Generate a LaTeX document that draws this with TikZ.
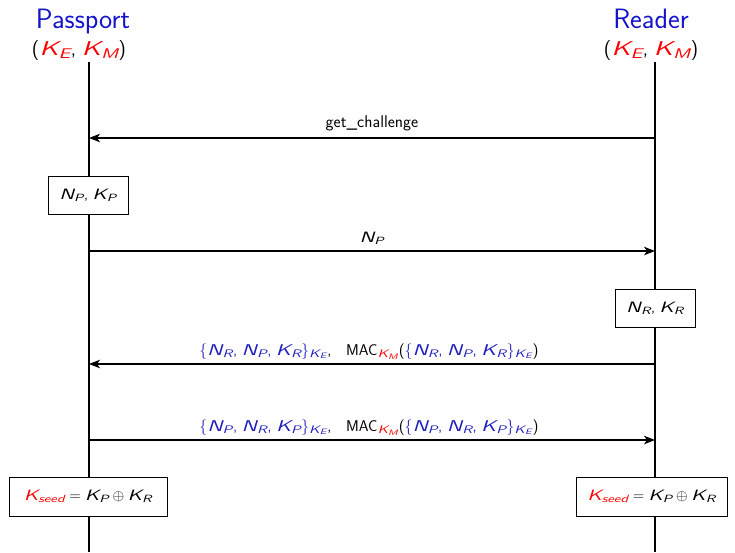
\RequirePackage{fix-cm}
\documentclass[tikz,border=0pt]{standalone}
\usepackage[no-math]{fontspec}
\usepackage{amsmath}
\usetikzlibrary{arrows.meta}
\newfontfamily\sfxfam{lmsans10-oblique.otf}[FakeStretch=1.4]
\DeclareSymbolFont{operators}{OT1}{cmss}{m}{n}
\DeclareMathSymbol{(}{\mathopen}{operators}{`(}
\DeclareMathSymbol{)}{\mathclose}{operators}{`)}
\DeclareMathSymbol{,}{\mathpunct}{operators}{`,}
\newcommand{\mk}[1]{\text{\sfxfam #1}}
\definecolor{tblue}{RGB}{20,20,200}
\definecolor{mblue}{RGB}{30,30,190}
\newcommand{\enc}[1]{\textcolor{mblue}{#1}}
\newcommand{\rk}[1]{\textcolor{red}{#1}}
\newcommand{\KE}{\mk{K}_{\mk{E}}}
\newcommand{\KM}{\mk{K}_{\mk{M}}}
\newcommand{\NP}{\mk{N}_{\mk{P}}}
\newcommand{\NR}{\mk{N}_{\mk{R}}}
\newcommand{\KP}{\mk{K}_{\mk{P}}}
\newcommand{\KR}{\mk{K}_{\mk{R}}}
\thinmuskip=5mu
\begin{document}
\begin{tikzpicture}[x=1pt,y=-1pt,
  lifeline/.style={line width=1.2pt},
  msg/.style={line width=1.2pt,-{Stealth[length=11pt,width=8.5pt,inset=3pt]}},
  lbl/.style={font=\sffamily\fontsize{15}{18}\selectfont,inner sep=0pt,anchor=base},
  mlbl/.style={lbl,font=\sffamily\fontsize{15.6}{18}\selectfont},
  box/.style={draw,line width=1pt,fill=white,font=\sffamily\fontsize{15}{18}\selectfont,inner sep=0pt,minimum height=38pt},
  title/.style={font=\sffamily\fontsize{28}{32}\selectfont,text=tblue,inner sep=0pt,anchor=base},
  keys/.style={font=\sffamily\fontsize{20}{24}\selectfont,inner sep=0pt,anchor=base}]
\useasboundingbox (0,0) rectangle (735,552);
% titles
\node[title] (P) at (83,28) {Passport};
\node[title] (R) at (651,28) {Reader};
\node[keys] (PK) at (79,55) {$(\rk{\KE},\rk{\KM})$};
\node[keys] (RK) at (651,55) {$(\rk{\KE},\rk{\KM})$};
% lifelines
\coordinate (pt) at (89,62);
\coordinate (pb) at (89,552);
\coordinate (rt) at (655,62);
\coordinate (rb) at (655,552);
\draw[lifeline] (pt) -- (pb);
\draw[lifeline] (rt) -- (rb);
% message anchors
\coordinate (p1) at (89,138); \coordinate (r1) at (655,138);
\coordinate (p2) at (89,251); \coordinate (r2) at (655,251);
\coordinate (p3) at (89,364); \coordinate (r3) at (655,364);
\coordinate (p4) at (89,440); \coordinate (r4) at (655,440);
% messages
\draw[msg] (r1) -- node[lbl,yshift=11pt,font=\sffamily\fontsize{17}{20}\selectfont] {get\_challenge} (p1);
\draw[msg] (p2) -- node[lbl,yshift=9pt] {$\NP$} (r2);
\draw[msg] (r3) -- node[mlbl,yshift=9pt,xshift=-3pt] {$\enc{\{\NR,\NP,\KR\}_{\KE}}$,\ \ \ MAC$_{\rk{\KM}}$$(\enc{\{\NR,\NP,\KR\}_{\KE}})$} (p3);
\draw[msg] (p4) -- node[mlbl,yshift=9pt,xshift=-3pt] {$\enc{\{\NP,\NR,\KP\}_{\KE}}$,\ \ \ MAC$_{\rk{\KM}}$$(\enc{\{\NP,\NR,\KP\}_{\KE}})$} (r4);
% boxes
\node[box,minimum width=80pt] (bp) at (88,195.5) {$\NP,\KP$};
\node[box,minimum width=80pt] (br) at (655,308) {$\NR,\KR$};
\node[box,minimum width=158pt,minimum height=39pt] (sp) at (88,496.5) {$\rk{\mk{K}_{\mk{seed}}}=\KP\oplus\KR$};
\node[box,minimum width=151pt,minimum height=39pt] (sr) at (651.5,496.5) {$\rk{\mk{K}_{\mk{seed}}}=\KP\oplus\KR$};
\end{tikzpicture}
\end{document}
